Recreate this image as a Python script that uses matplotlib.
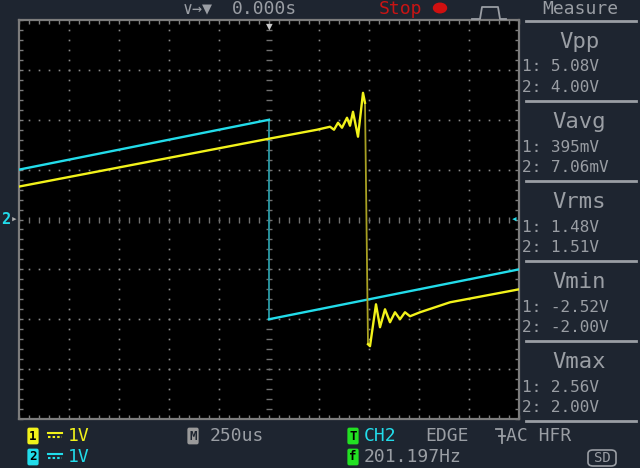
import numpy as np
import matplotlib.pyplot as plt
from matplotlib.lines import Line2D
from matplotlib.patches import Circle, FancyBboxPatch

# time in us (250 us/div), voltage in V (1 V/div)
ch2_t = [-1250, 0, 0, 1250]
ch2_v = [1.0, 2.0, -2.0, -1.0]

ch1_t = [-1250, 0, 240, 305, 325, 345, 365, 390, 405, 420, 445, 470, 480,
         495, 505, 535, 555, 580, 605, 630, 655, 680, 705, 755, 905, 1250]
ch1_v = [0.66, 1.62, 1.80, 1.86, 1.80, 1.94, 1.84, 2.04, 1.88, 2.16, 1.66, 2.54, 2.34,
         -2.50, -2.54, -1.70, -2.16, -1.80, -2.06, -1.86, -2.00, -1.86, -1.94, -1.86, -1.66, -1.40]
drop_idx = 13  # first point after the falling edge

meas_names = ['Vpp', 'Vavg', 'Vrms', 'Vmin', 'Vmax']
meas_ch1 = ['5.08V', '395mV', '1.48V', '-2.52V', '2.56V']
meas_ch2 = ['4.00V', '7.06mV', '1.51V', '-2.00V', '2.00V']

BG = '#1e2530'
GRAY = '#9a9ea4'
YEL = '#f2f21a'
CYAN = '#22dcea'
GREEN = '#22e022'
MONO = ['DejaVu Sans Mono', 'DejaVu Sans']

W, H = 640, 468
fig = plt.figure(figsize=(6.4, 4.68), dpi=100, facecolor=BG)


def fx(x):
    return x / W


def fy(y):
    return 1 - y / H


def txt(x, y, s, color=GRAY, size=13, ha='left', **kw):
    fig.text(fx(x), fy(y), s, color=color, fontsize=size, ha=ha, va='center',
             family=MONO, **kw)


def fline(xs, ys, color=GRAY, lw=1.5, **kw):
    fig.add_artist(Line2D([fx(x) for x in xs], [fy(y) for y in ys],
                          color=color, lw=lw, transform=fig.transFigure, **kw))


ax = fig.add_axes([fx(19), fy(419), 500 / W, 399 / H])
ax.set_facecolor('black')
ax.set_xlim(-1250, 1250)
ax.set_ylim(-4, 4)
for sp in ax.spines.values():
    sp.set_color('#7c7c7c')
    sp.set_linewidth(1.6)
ax.set_xticks(np.arange(-1250, 1251, 50))
ax.set_yticks(np.arange(-4, 4.01, 0.2))
ax.tick_params(direction='in', length=3, width=1, colors='#7c7c7c',
               top=True, right=True, labelbottom=False, labelleft=False)

# dotted graticule
dots = np.arange(-4, 4.01, 0.2)
for k in range(-4, 5):
    if k == 0:
        continue
    ax.plot(np.full_like(dots, k * 250), dots, 's', color='#8a8a8a', ms=1.2, mew=0)
dx = np.arange(-1250, 1251, 50)
for j in range(-3, 4):
    if j == 0:
        continue
    ax.plot(dx, np.full_like(dx, j, dtype=float), 's', color='#8a8a8a', ms=1.2, mew=0)
# centre crosshair ticks
ax.plot(dx, np.zeros_like(dx, dtype=float), '|', color='#707070', ms=5, mew=1)
ax.plot(np.zeros_like(dots), dots, '_', color='#707070', ms=5, mew=1)

# traces
ax.plot(ch2_t[:2], ch2_v[:2], color=CYAN, lw=1.7, zorder=5)
ax.plot(ch2_t[1:3], ch2_v[1:3], color='#2a9aa6', lw=1.3, zorder=4)
ax.plot(ch2_t[2:], ch2_v[2:], color=CYAN, lw=1.7, zorder=5)
ax.plot(ch1_t[:drop_idx], ch1_v[:drop_idx], color=YEL, lw=1.7, zorder=6)
ax.plot(ch1_t[drop_idx - 1:drop_idx + 1], ch1_v[drop_idx - 1:drop_idx + 1],
        color='#a8a022', lw=1.3, zorder=5)
ax.plot(ch1_t[drop_idx:], ch1_v[drop_idx:], color=YEL, lw=1.7, zorder=6)

# trigger / channel markers
txt(269, 27, '\u25bc', color='#c8c8c8', size=8, ha='center')
txt(6, 220, '2', color=CYAN, size=11, ha='center', fontweight='bold')
txt(14, 220, '\u25b8', color='#b0b0b0', size=8, ha='center')
txt(514, 220, '\u25c2', color=CYAN, size=8, ha='center')

# top bar
txt(198, 9, '\u2228\u2192\u25bc', size=12, ha='center')
txt(232, 9, '0.000s', size=13)
txt(379, 9, 'Stop', color='#c81414', size=13)
fig.add_artist(Circle((fx(440), fy(8)), 6.5 / W, color='#d01010',
                      transform=fig.transFigure))
fline([472, 480, 482, 498, 500, 506], [19, 19, 7, 7, 19, 19], lw=1.3)
txt(580, 9, 'Measure', size=13, ha='center')

# measurement panel
for i, name in enumerate(meas_names):
    top = 21 + 80 * i
    fline([526, 636], [top, top], lw=2)
    txt(579, top + 21, name, size=16, ha='center')
    txt(522, top + 46, '1: ' + meas_ch1[i], size=11.5)
    txt(522, top + 67, '2: ' + meas_ch2[i], size=11.5)
fline([526, 636], [421, 421], lw=2)

# bottom bar
txt(33, 436, '1', color='black', size=9, ha='center', fontweight='bold',
    bbox=dict(boxstyle='round,pad=0.15', fc=YEL, ec='none'))
txt(33, 457, '2', color='black', size=9, ha='center', fontweight='bold',
    bbox=dict(boxstyle='round,pad=0.15', fc=CYAN, ec='none'))
for y0, c in [(433, YEL), (454, CYAN)]:
    fline([48, 62], [y0, y0], color=c, lw=1.5)
    fline([48, 62], [y0 + 4, y0 + 4], color=c, lw=1.5, ls=(0, (1.2, 1)))
txt(68, 436, '1V', color=YEL, size=13)
txt(68, 457, '1V', color=CYAN, size=13)

txt(193, 436, 'M', color=BG, size=9, ha='center', fontweight='bold',
    bbox=dict(boxstyle='round,pad=0.15', fc='#9a9a9a', ec='none'))
txt(210, 436, '250us', size=13)

txt(353, 436, 'T', color='black', size=9, ha='center', fontweight='bold',
    bbox=dict(boxstyle='round,pad=0.15', fc=GREEN, ec='none'))
txt(364, 436, 'CH2', color=CYAN, size=13)
txt(425, 436, 'EDGE', size=13)
fline([496, 502, 502], [429, 429, 443], lw=1.3)
fline([499, 505], [436, 436], lw=1.3)
txt(506, 436, 'AC HFR', size=13)

txt(353, 457, 'f', color='black', size=9, ha='center', fontweight='bold',
    bbox=dict(boxstyle='round,pad=0.15', fc=GREEN, ec='none'))
txt(364, 457, '201.197Hz', size=13)
fig.add_artist(FancyBboxPatch((fx(588), fy(466)), 28 / W, 16 / H,
                              boxstyle='round,pad=0,rounding_size=0.008',
                              fc='none', ec=GRAY, lw=1.2,
                              transform=fig.transFigure))
txt(602, 458, 'SD', size=10, ha='center')

fig.savefig('out.png', dpi=100, facecolor=BG)
